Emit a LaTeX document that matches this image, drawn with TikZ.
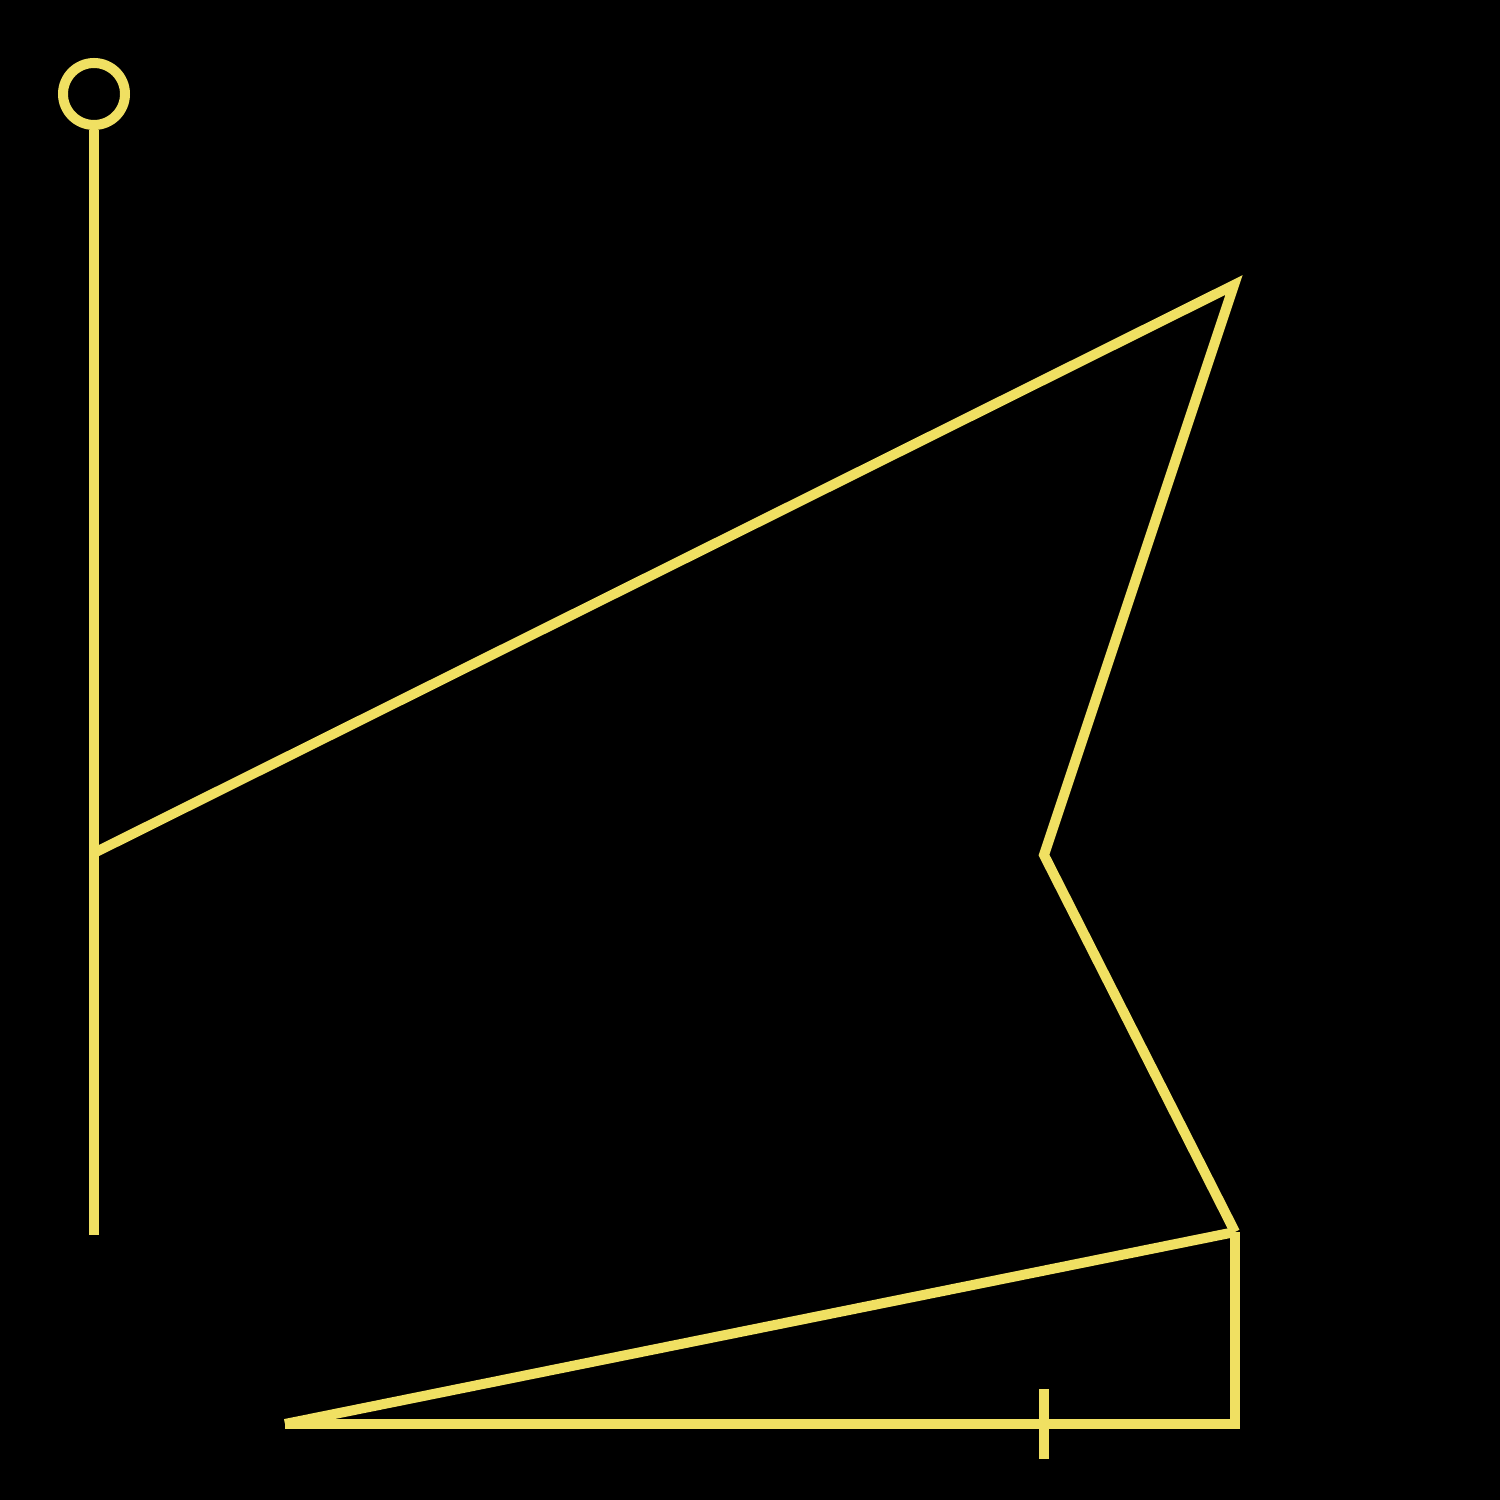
\documentclass[tikz,border=0pt]{standalone}
\definecolor{flagyellow}{RGB}{240,224,98}
\tikzset{stroke/.style={draw=flagyellow, line width=1mm}}

\begin{document}
\begin{tikzpicture}
		\fill[black] (0,0) rectangle (15,15);
		\useasboundingbox (0,0) rectangle (15,15);
		
		\node[stroke, circle, inner sep=0pt, minimum size=0.62cm] (pin) at (0.94,14.06) {};
		\coordinate (foot) at (0.94,2.65);
		\coordinate (joint) at (0.94,6.47);
		\coordinate (apex) at (12.34,12.15);
		\coordinate (notch) at (10.44,6.45);
		\coordinate (knee) at (12.35,2.68);
		\coordinate (tail) at (2.85,0.76);
		\coordinate (corner) at (12.35,0.76);
		\coordinate (ticktop) at (10.44,1.11);
		\coordinate (tickbottom) at (10.44,0.41);
		
		\draw[stroke] (pin.south) -- (foot);
		\draw[stroke] (joint) -- (apex) -- (notch) -- (knee);
		\draw[stroke] (knee) -- (tail);
		\draw[stroke] (tail) -- (corner) -- (knee);
		\draw[stroke] (ticktop) -- (tickbottom);
	\end{tikzpicture}
\end{document}
